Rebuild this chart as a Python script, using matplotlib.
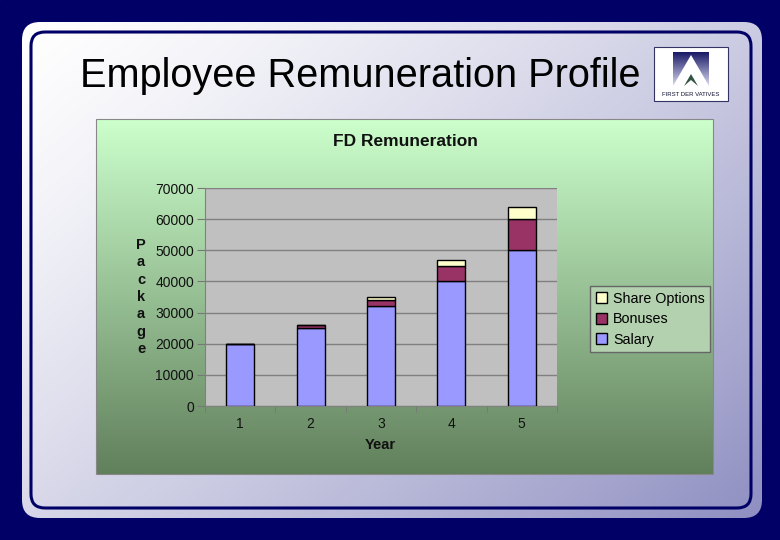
import numpy as np
import matplotlib.pyplot as plt
from matplotlib.patches import FancyBboxPatch, Rectangle, Polygon

plt.rcParams['font.family'] = ['Liberation Sans', 'DejaVu Sans']

years = ['1', '2', '3', '4', '5']
salary = [20000, 25000, 32000, 40000, 50000]
bonuses = [0, 1000, 2000, 5000, 10000]
share_options = [0, 0, 1000, 2000, 4000]
y_ticks = [0, 10000, 20000, 30000, 40000, 50000, 60000, 70000]

W, H = 780, 540
fig = plt.figure(figsize=(7.8, 5.4), dpi=100)

# slide background (pixel coords)
bg = fig.add_axes([0, 0, 1, 1])
bg.set_xlim(0, W)
bg.set_ylim(H, 0)
bg.axis('off')
bg.add_patch(Rectangle((0, 0), W, H, color='#000066', zorder=0))

slide = FancyBboxPatch((22, 22), 740, 496, boxstyle='round,pad=0,rounding_size=18',
                       facecolor='none', edgecolor='none', zorder=1)
bg.add_patch(slide)
gx, gy = np.meshgrid(np.linspace(0, 1, 200), np.linspace(0, 1, 200))
t = np.clip(0.55 * gx + 0.45 * gy, 0, 1) ** 1.3
c0 = np.array([1.0, 1.0, 1.0])
c1 = np.array([0.56, 0.56, 0.76])
grad = c0 + (c1 - c0) * t[..., None]
im = bg.imshow(grad, extent=(22, 762, 518, 22), zorder=1, aspect='auto')
im.set_clip_path(slide)
bg.add_patch(FancyBboxPatch((31, 32), 720, 476, boxstyle='round,pad=0,rounding_size=14',
                            facecolor='none', edgecolor='#000066', lw=2.2, zorder=2))

bg.text(80, 76, 'Employee Remuneration Profile', fontsize=28.6, va='center',
        ha='left', color='black', zorder=3)

# logo
bg.add_patch(Rectangle((654, 47), 74, 54, facecolor='white', edgecolor='#333366',
                       lw=0.8, zorder=3))
lg = np.linspace(0, 1, 50)[:, None] * np.ones((1, 50))
lgrad = np.array([0.1, 0.1, 0.4]) + (np.array([0.85, 0.85, 0.95]) - np.array([0.1, 0.1, 0.4])) * lg[..., None]
bg.imshow(lgrad, extent=(673, 709, 86, 52), zorder=3, aspect='auto')
bg.add_patch(Polygon([[673, 86], [691, 55], [709, 86]], facecolor='white', edgecolor='none', zorder=4))
bg.add_patch(Polygon([[684, 86], [691, 74], [698, 86], [691, 80]], facecolor='#335544',
                     edgecolor='none', zorder=5))
bg.text(691, 95, 'FIRST DER VATIVES', fontsize=4.3, ha='center', va='center',
        color='#111133', zorder=5)

# chart area with green gradient
cg = np.linspace(0, 1, 200)[:, None] * np.ones((1, 10))
top = np.array([0.80, 1.0, 0.80])
bot = np.array([0.38, 0.50, 0.36])
cgrad = top + (bot - top) * cg[..., None]
bg.imshow(cgrad, extent=(96, 713, 474, 119), zorder=3, aspect='auto')
bg.add_patch(Rectangle((96, 119), 617, 355, facecolor='none', edgecolor='#888888',
                       lw=0.8, zorder=4))
bg.text(405, 142, 'FD Remuneration', fontsize=12.5, fontweight='bold', ha='center',
        va='center', zorder=5, color='#111111')
bg.text(141, 297, '\n'.join('Package'), fontsize=10.5, fontweight='bold', ha='center',
        va='center', linespacing=1.3, zorder=5, color='#111111')
bg.text(380, 445, 'Year', fontsize=10.5, fontweight='bold', ha='center', va='center',
        zorder=5, color='#111111')

# plot area
ax = fig.add_axes([205 / W, 1 - 406 / H, 352 / W, 218 / H], zorder=5)
ax.set_facecolor('#c0c0c0')
x = np.arange(1, len(years) + 1)
w = 0.4
ax.bar(x, salary, w, color='#9999ff', edgecolor='black', lw=1, label='Salary', zorder=3)
ax.bar(x, bonuses, w, bottom=salary, color='#993366', edgecolor='black', lw=1,
       label='Bonuses', zorder=3)
base2 = [s + b for s, b in zip(salary, bonuses)]
ax.bar(x, share_options, w, bottom=base2, color='#ffffcc', edgecolor='black', lw=1,
       label='Share Options', zorder=3)
ax.set_xlim(0.5, 5.5)
ax.set_ylim(0, 70000)
ax.set_yticks(y_ticks)
ax.set_yticklabels([str(v) for v in y_ticks])
ax.set_xticks(x)
ax.set_xticklabels(years)
ax.set_xticks(np.arange(0.5, 6), minor=True)
ax.tick_params(axis='x', which='major', length=0, pad=8, labelsize=10, colors='#111111')
ax.tick_params(axis='x', which='minor', length=4, color='#777777')
ax.tick_params(axis='y', length=6, color='#777777', labelsize=10, labelcolor='#111111',
               pad=2)
ax.yaxis.grid(True, color='#808080', lw=1, zorder=1)
for s in ['top', 'right']:
    ax.spines[s].set_visible(False)
for s in ['left', 'bottom']:
    ax.spines[s].set_color('#808080')

h, l = ax.get_legend_handles_labels()
leg = fig.legend(h[::-1], l[::-1], loc='upper left',
                 bbox_to_anchor=(590 / W, 1 - 286 / H), frameon=True, fontsize=10.3,
                 handlelength=0.8, handleheight=0.8, handletextpad=0.4,
                 labelspacing=0.45, borderpad=0.4, borderaxespad=0, fancybox=False)
leg.get_frame().set_facecolor('#b3d1ae')
leg.get_frame().set_edgecolor('#666666')
leg.get_frame().set_alpha(1)

fig.savefig('out.png', dpi=100)
